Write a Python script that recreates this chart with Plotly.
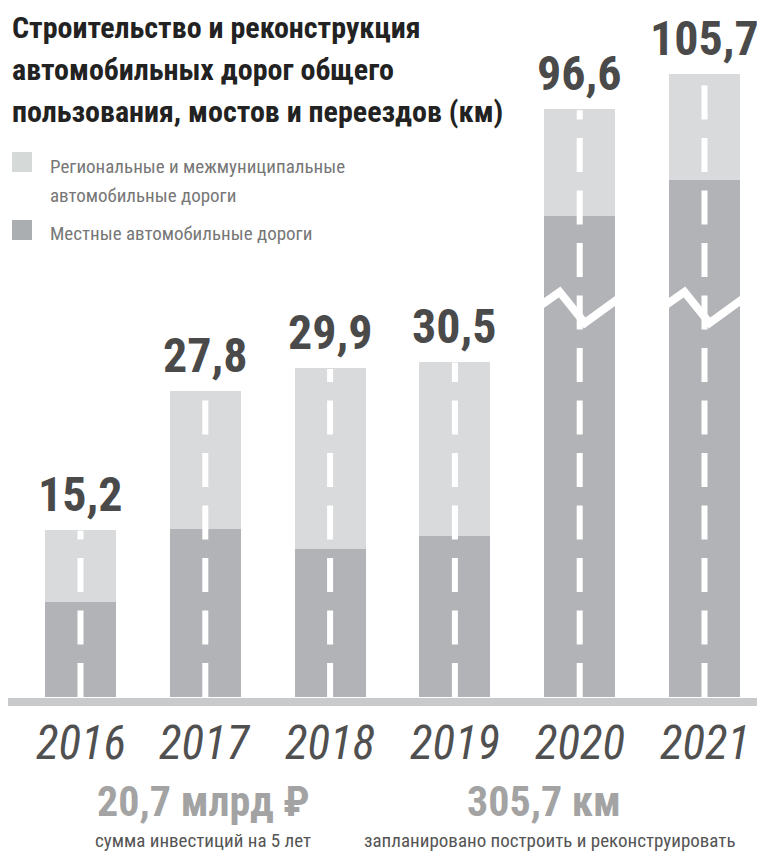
import plotly.graph_objects as go

# ---------------- data ----------------
years = [2016, 2017, 2018, 2019, 2020, 2021]
regional = [6.6, 12.5, 16.4, 15.9, 28.0, 27.7]   # Региональные и межмуниципальные
local = [8.6, 15.3, 13.5, 14.6, 68.6, 78.0]      # Местные
totals = [15.2, 27.8, 29.9, 30.5, 96.6, 105.7]
total_labels = ["15,2", "27,8", "29,9", "30,5", "96,6", "105,7"]
year_labels = ["2016", "2017", "2018", "2019", "2020", "2021"]
broken = [False, False, False, False, True, True]

title_lines = ["Строительство и реконструкция", "автомобильных дорог общего",
               "пользования, мостов и переездов (км)"]
legend_lines = [["Региональные и межмуниципальные", "автомобильные дороги"],
                ["Местные автомобильные дороги"]]
footer_big = ["20,7 млрд ₽", "305,7 км"]
footer_small = ["сумма инвестиций на 5 лет", "запланировано построить и реконструировать"]

# ---------------- scale with axis break ----------------
BREAK = 30.5
K = 0.347


def disp(v):
    return v if v <= BREAK else BREAK + (v - BREAK) * K


OFF = 8                 # page body margin
PX_PER_UNIT = 11.0
BASE_PX = 697           # page y of the baseline
W, H = 765 - OFF, 851 - OFF
PLOT_H = BASE_PX - OFF
PX_PER_X = 124.8
X0 = 2016 - (80.5 - OFF) / PX_PER_X
X1 = X0 + W / PX_PER_X

LIGHT = "#d9dadb"
DARK = "#b2b3b6"
COND = "Roboto Condensed, Liberation Sans Narrow, DejaVu Sans Condensed, Roboto"


def px(xp):   # page x -> paper x
    return (xp - OFF) / W


def pyp(yp):  # page y -> paper y
    return (BASE_PX - yp) / PLOT_H


def py(yp):   # page y -> data y
    return (BASE_PX - yp) / PX_PER_UNIT


d_local = [disp(v) for v in local]
d_total = [disp(t) for t in totals]
d_reg = [t - l for t, l in zip(d_total, d_local)]

fig = go.Figure()
fig.add_trace(go.Bar(x=years, y=d_local, marker=dict(color=DARK, line=dict(width=0)),
                     width=0.57, showlegend=False, hoverinfo="skip"))
fig.add_trace(go.Bar(x=years, y=d_reg, marker=dict(color=LIGHT, line=dict(width=0)),
                     width=0.57, showlegend=False, hoverinfo="skip"))

# zigzag break marks
zig = [(-47, 311), (-20, 292), (5, 323), (45, 294)]
for yr, b in zip(years, broken):
    if b:
        fig.add_trace(go.Scatter(x=[yr + dx / PX_PER_X for dx, _ in zig],
                                 y=[py(p) for _, p in zig], mode="lines",
                                 line=dict(color="white", width=8), showlegend=False,
                                 hoverinfo="skip"))

# dashed centre lines
for yr, t in zip(years, d_total):
    fig.add_trace(go.Scatter(x=[yr, yr], y=[0, t - 1 / PX_PER_UNIT], mode="lines",
                             line=dict(color="white", width=6, dash="34px,18.5px"),
                             showlegend=False, hoverinfo="skip"))

ann = []
for yr, t, lab in zip(years, d_total, total_labels):
    ann.append(dict(x=yr, y=t, text=lab, showarrow=False, yanchor="bottom", yshift=5,
                    font=dict(family=COND, size=48, color="#4a4a4a", weight="bold")))
for yr, lab in zip(years, year_labels):
    ann.append(dict(x=yr, y=0, text=lab, showarrow=False, yanchor="middle", yshift=-45,
                    font=dict(family=COND, size=47, color="#505050", style="italic")))

# title
for i, line in enumerate(title_lines):
    ann.append(dict(xref="paper", yref="paper", x=px(10), y=pyp(27 + 42 * i),
                    text=line, showarrow=False, xanchor="left", yanchor="middle",
                    font=dict(family=COND, size=30, color="#222222", weight="bold")))

# legend
leg_y = [[167, 196], [234]]
for lines, ys in zip(legend_lines, leg_y):
    for line, yv in zip(lines, ys):
        ann.append(dict(xref="paper", yref="paper", x=px(48), y=pyp(yv), text=line,
                        showarrow=False, xanchor="left", yanchor="middle",
                        font=dict(family=COND, size=19, color="#777777")))

# footer
for xc, big in zip([203, 544], footer_big):
    ann.append(dict(xref="paper", yref="paper", x=px(xc), y=pyp(801), text=big,
                    showarrow=False, xanchor="center", yanchor="middle",
                    font=dict(family=COND, size=42, color="#a3a3a3", weight="bold")))
for xc, small in zip([203, 550], footer_small):
    ann.append(dict(xref="paper", yref="paper", x=px(xc), y=pyp(840), text=small,
                    showarrow=False, xanchor="center", yanchor="middle",
                    font=dict(family=COND, size=19, color="#555555")))

shapes = [
    dict(type="rect", xref="paper", yref="paper", x0=px(12), x1=px(32),
         y0=pyp(172), y1=pyp(152), fillcolor="#d5d9d8", line=dict(width=0)),
    dict(type="rect", xref="paper", yref="paper", x0=px(12), x1=px(32),
         y0=pyp(240), y1=pyp(220), fillcolor="#abaeb0", line=dict(width=0)),
    dict(type="rect", xref="paper", yref="paper", x0=0, x1=1,
         y0=pyp(706), y1=pyp(698), fillcolor="#c9cacb", line=dict(width=0), layer="below"),
]

fig.update_layout(
    width=W, height=H, margin=dict(l=0, r=0, t=0, b=H - PLOT_H, pad=0),
    paper_bgcolor="white", plot_bgcolor="white", barmode="stack", bargap=0,
    xaxis=dict(range=[X0, X1], visible=False, fixedrange=True),
    yaxis=dict(range=[0, PLOT_H / PX_PER_UNIT], visible=False, fixedrange=True),
    annotations=ann, shapes=shapes, showlegend=False,
)
fig.write_html("out.html")
